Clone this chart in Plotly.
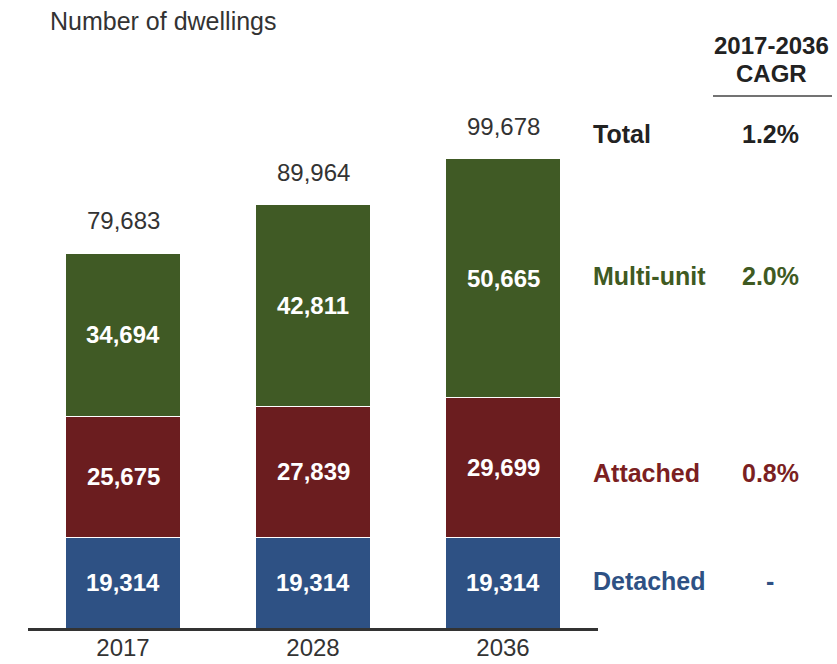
import plotly.graph_objects as go

# Dwelling projections by type
years = ["2017", "2028", "2036"]
detached = [19314, 19314, 19314]
attached = [25675, 27839, 29699]
multi_unit = [34694, 42811, 50665]

series_names = ["Detached", "Attached", "Multi-unit"]
series_values = [detached, attached, multi_unit]
cagr_labels = ["-", "0.8%", "2.0%"]
total_cagr = "1.2%"

bar_colors = ["#2E5184", "#6B1D1F", "#405A25"]
label_colors = ["#2E5184", "#7B1F22", "#3F5A22"]

totals = [sum(v) for v in zip(*series_values)]
xpos = list(range(len(years)))

FONT = "Liberation Sans, Arial, sans-serif"
W, H = 837, 664
M_L, M_R, M_T, M_B = 28, 239, 60, 36
PLOT_W = W - M_L - M_R
PLOT_H = H - M_T - M_B


def px_x(px):
    return (px - M_L) / PLOT_W


def px_y(py):
    return (H - M_B - py) / PLOT_H


fig = go.Figure()
annotations = []
base = [0] * len(years)
for name, vals, col in zip(series_names, series_values, bar_colors):
    fig.add_trace(go.Bar(
        x=xpos, y=vals, name=name, width=0.605,
        marker=dict(color=col, line=dict(color="white", width=1)),
        hoverinfo="skip",
    ))
    # Segment value centred in each stacked block
    for i, v in enumerate(vals):
        annotations.append(dict(
            x=xpos[i], y=base[i] + v / 2, xref="x", yref="y",
            text=f"<b>{v:,}</b>", showarrow=False,
            xanchor="center", yanchor="middle",
            font=dict(family=FONT, size=24, color="white"),
        ))
        base[i] += v

# Totals above each bar
for xp, tot in zip(xpos, totals):
    annotations.append(dict(
        x=xp, y=tot, xref="x", yref="y", text=f"{tot:,}", showarrow=False,
        yanchor="bottom", yshift=17,
        font=dict(family=FONT, size=24, color="#333333"),
    ))

annotations.append(dict(
    x=px_x(48), y=px_y(21), xref="paper", yref="paper",
    text="Number of dwellings", showarrow=False,
    xanchor="left", yanchor="middle",
    font=dict(family=FONT, size=25, color="#333333"),
))

# CAGR column header
for txt, py in [("2017-2036", 45), ("CAGR", 73)]:
    annotations.append(dict(
        x=px_x(771), y=px_y(py), xref="paper", yref="paper", text=f"<b>{txt}</b>",
        showarrow=False, xanchor="center", yanchor="middle",
        font=dict(family=FONT, size=24, color="#222222"),
    ))

# Right-hand series labels with growth rates
row_y = [581, 473, 276]
rows = list(zip(series_names, cagr_labels, label_colors, row_y))
rows.append(("Total", total_cagr, "#222222", 134))
for name, rate, col, py in rows:
    annotations.append(dict(
        x=px_x(591), y=px_y(py), xref="paper", yref="paper", text=f"<b>{name}</b>",
        showarrow=False, xanchor="left", yanchor="middle",
        font=dict(family=FONT, size=25, color=col),
    ))
    annotations.append(dict(
        x=px_x(770), y=px_y(py), xref="paper", yref="paper", text=f"<b>{rate}</b>",
        showarrow=False, xanchor="center", yanchor="middle",
        font=dict(family=FONT, size=25, color=col),
    ))

fig.update_layout(
    width=W, height=H,
    margin=dict(l=M_L, r=M_R, t=M_T, b=M_B, pad=0, autoexpand=False),
    barmode="stack",
    plot_bgcolor="white", paper_bgcolor="white",
    showlegend=False,
    annotations=annotations,
    shapes=[dict(
        type="line", xref="paper", yref="paper",
        x0=px_x(713), x1=px_x(832), y0=px_y(96), y1=px_y(96),
        line=dict(color="#444444", width=1.5),
    )],
    xaxis=dict(
        range=[-0.5, len(years) - 0.5], automargin=False,
        tickmode="array", tickvals=xpos, ticktext=years,
        showline=True, linecolor="#333333", linewidth=3,
        ticks="", showgrid=False, zeroline=False,
        ticklabelstandoff=-4,
        tickfont=dict(family=FONT, size=24, color="#333333"),
    ),
    yaxis=dict(
        range=[0, 120700], visible=False, showgrid=False, zeroline=False,
        automargin=False,
    ),
)

fig.write_html("out.html")
